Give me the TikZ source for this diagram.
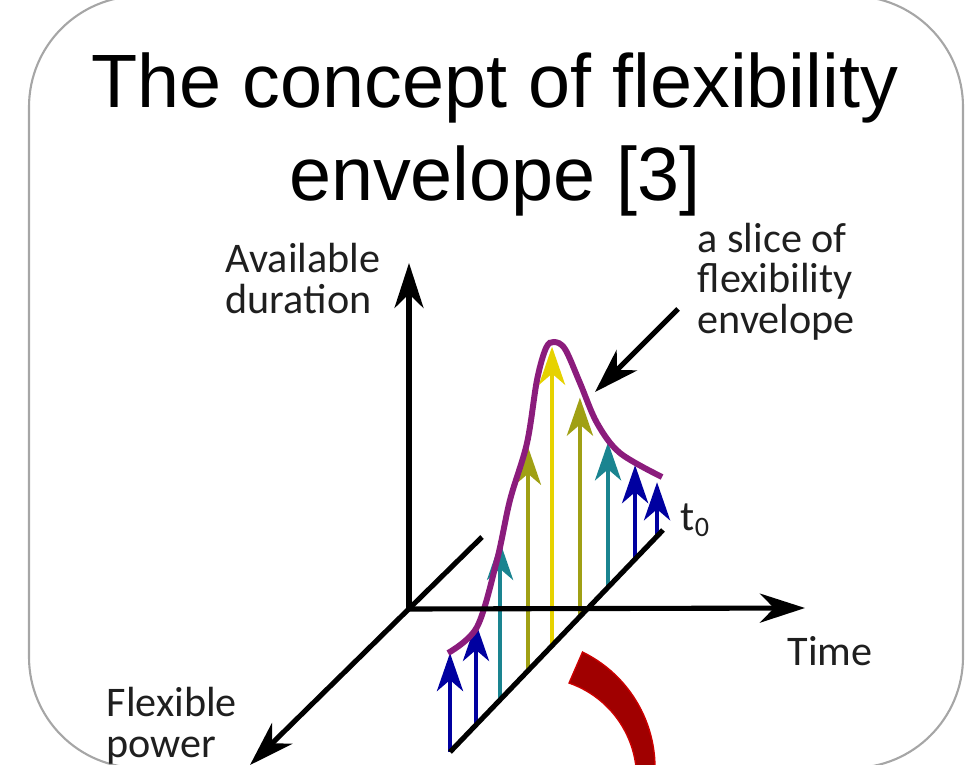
\documentclass[tikz,border=0pt]{standalone}
\usepackage{fontspec}
\setmainfont{Liberation Sans}
\newfontfamily\calibri{Carlito}
\usetikzlibrary{arrows.meta,calc}

\definecolor{envpurple}{HTML}{8B1C7C}
\definecolor{envblue}{HTML}{0000A0}
\definecolor{envteal}{HTML}{1A8490}
\definecolor{envolive}{HTML}{A0A014}
\definecolor{envyellow}{HTML}{E6D200}
\definecolor{arcred}{HTML}{A00000}
\definecolor{arcedge}{HTML}{CC0000}

\begin{document}
\begin{tikzpicture}[
    axis/.style={line width=1.45pt, -{Stealth[length=4.5mm, width=2.9mm, inset=1.4mm]}},
    flexarrow/.style={line width=1.35pt, -{Stealth[length=3.8mm, width=2.6mm, inset=1.1mm]}},
    lbl/.style={font=\calibri\fontsize{12}{11.4}\selectfont, text=black!88, align=left, inner sep=0pt}
  ]
  \useasboundingbox (0,0) rectangle (9.73,7.64);
  \clip (0,0) rectangle (9.73,7.64);

  % frame
  \draw[black!35, line width=0.6pt, rounded corners=11.1mm] (0.29,-0.04) rectangle (9.63,7.68);

  % title (base = last line)
  \node[font=\fontsize{21.5}{26.2}\selectfont, align=center, anchor=base, inner sep=0pt] (title) at (4.95,5.64)
    {The concept of flexibility\\envelope [3]};

  % slice of the envelope
  \coordinate (s1) at (4.50,0.12);
  \coordinate (s2) at (6.63,2.34);
  \foreach \p/\h/\c in {0/0.99/envblue, 0.122/1.02/envblue, 0.235/1.58/envteal,
      0.366/2.24/envolive, 0.479/2.99/envyellow, 0.610/2.19/envolive,
      0.742/1.45/envteal, 0.869/0.94/envblue, 0.972/0.54/envblue}
    \draw[flexarrow, \c] ($(s1)!\p!(s2)$) -- ++(0,\h);

  \draw[envpurple, line width=1.7pt] plot[smooth, tension=0.55] coordinates {
    (4.48,1.11) (4.77,1.37) (4.97,2.04) (5.10,2.64) (5.27,3.21) (5.37,3.84)
    (5.46,4.16) (5.54,4.22) (5.65,4.15) (5.80,3.81) (5.97,3.41) (6.20,3.11) (6.62,2.87)};

  % axes
  \coordinate (O) at (4.09,1.55);
  \coordinate (ytip) at (4.09,5.01);
  \coordinate (xtip) at (8.05,1.56);
  \coordinate (pback) at (4.82,2.27);
  \coordinate (ptip) at (2.50,-0.01);
  \draw[axis] (O) -- (ytip);
  \draw[axis] (O) -- (xtip);
  \draw[axis] (pback) -- (ptip);
  \draw[line width=1.45pt] (s1) -- (s2);

  % labels (base = last line)
  \node[lbl, anchor=base west] (avail) at (2.25,4.51) {Available\\duration};
  \node[lbl, anchor=base west] (slice) at (6.97,4.31) {a slice of\\flexibility\\envelope};
  \node[lbl, anchor=base west] (time) at (7.87,0.99) {Time};
  \node[lbl, anchor=base west] (power) at (1.06,0.07) {Flexible\\power};
  \node[lbl, anchor=base west] (t0) at (6.80,2.34) {t\textsubscript{0}};

  \coordinate (pstart) at (6.78,4.55);
  \coordinate (ppoint) at (5.95,3.72);
  \draw[axis] (pstart) -- (ppoint);

  % red arc
  \filldraw[fill=arcred, draw=arcedge, line width=0.4pt]
    (5.26,-0.04) ++(64:1.29) arc[start angle=64, end angle=-15, radius=1.29]
    -- ($(5.36,-0.14)+(-15:1.006)$) arc[start angle=-15, end angle=70.8, radius=1.006] -- cycle;
\end{tikzpicture}
\end{document}
